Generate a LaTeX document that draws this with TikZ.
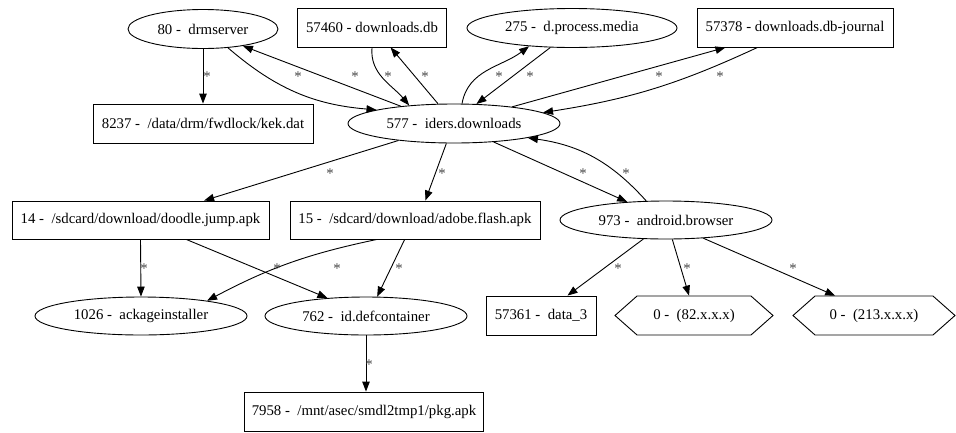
\documentclass[tikz,border=0pt]{standalone}
\usepackage{fontspec}
\setmainfont{Liberation Serif}
\usetikzlibrary{arrows.meta,shapes.geometric,shapes.symbols}

\tikzset{
  proc/.style={ellipse,draw,inner sep=0pt,minimum height=39pt},
  filebox/.style={rectangle,draw,inner sep=0pt,minimum height=39pt},
  sock/.style={signal,signal to=east and west,signal pointer angle=83,draw,inner sep=0pt,minimum height=39pt},
  link/.style={-{Triangle[length=10pt,width=7.5pt]}},
  lbl/.style={inner sep=0pt,text=black!72}
}

\begin{document}
\begin{tikzpicture}[x=1pt,y=-1pt,line width=0.9pt,font=\fontsize{14.8}{17}\selectfont]
  \useasboundingbox (0,0) rectangle (956,432);
  % top row
  \node[proc,minimum width=150pt] (drm) at (203,29) {80 - \ drmserver};
  \node[filebox,minimum width=149pt] (db) at (372,27.5) {57460 - downloads.db};
  \node[proc,minimum width=210pt] (media) at (572,28) {275 - \ d.process.media};
  \node[filebox,minimum width=196pt] (journal) at (795,27.5) {57378 - downloads.db-journal};
  \node[filebox,minimum width=220pt] (kek) at (203,123.5) {8237 - \ /data/drm/fwdlock/kek.dat};
  \node[proc,minimum width=212pt] (iders) at (454,123.5) {577 - \ iders.downloads};
  % middle row
  \node[filebox,minimum width=257pt,minimum height=38pt] (doodle) at (140.5,220) {14 - \ /sdcard/download/doodle.jump.apk};
  \node[filebox,minimum width=250pt,minimum height=38pt] (adobe) at (415,220) {15 - \ /sdcard/download/adobe.flash.apk};
  \node[proc,minimum width=212pt,minimum height=38pt] (browser) at (666,220) {973 - \ android.browser};
  % bottom rows
  \node[proc,minimum width=212pt,minimum height=38pt] (ackage) at (141,316) {1026 - \ ackageinstaller};
  \node[proc,minimum width=202pt,minimum height=38pt] (defc) at (366,316) {762 - \ id.defcontainer};
  \node[filebox,minimum width=110pt] (data) at (541,315.5) {57361 - \ data\_3};
  \node[sock,minimum width=158pt] (ipa) at (694,315.5) {0 - \ (82.x.x.x)};
  \node[sock,minimum width=162pt] (ipb) at (874,315.5) {0 - \ (213.x.x.x)};
  \node[filebox,minimum width=239pt] (pkg) at (364,411.5) {7958 - \ /mnt/asec/smdl2tmp1/pkg.apk};

  \draw[link] (drm.south) -- (kek.north);
  \draw[link] (drm.-37) to[bend right=18] (iders.170);
  \draw[link] (iders.162) -- (drm.-23);
  \draw[link] (db.south) to[out=-95,in=130] (iders.158);
  \draw[link] (iders.129) -- (db.-47);
  \draw[link] (iders.68) to[out=80,in=-143] (media.203);
  \draw[link] (media.-138) -- (iders.41);
  \draw[link] (iders.16) -- (journal.196);
  \draw[link] (journal.208) to[bend left=8] (iders.7);
  \draw[link] (iders.197) -- (doodle.17);
  \draw[link] (iders.-111) -- (adobe.62);
  \draw[link] (iders.-25) -- (browser.155);
  \draw[link] (browser.136) to[bend right=20] (iders.-11);
  \draw[link] (doodle.south) -- (ackage.north);
  \draw[link] (doodle.-23) -- (defc.155);
  \draw[link] (adobe.207) to[bend right=8] (ackage.13);
  \draw[link] (adobe.-118) -- (defc.60);
  \draw[link] (defc.south) -- (pkg.north -| defc.south);
  \draw[link] (browser.220) -- (data.37);
  \draw[link] (browser.-72) -- (ipa.104);
  \draw[link] (browser.-26) -- (ipb.153);

  % edge labels
  \node[lbl] (s1) at (207,77) {*};
  \node[lbl] (s2) at (298,77) {*};
  \node[lbl] (s3) at (355,77) {*};
  \node[lbl] (s4) at (388,77) {*};
  \node[lbl] (s5) at (425,77) {*};
  \node[lbl] (s6) at (499,77) {*};
  \node[lbl] (s7) at (530,77) {*};
  \node[lbl] (s8) at (659,77) {*};
  \node[lbl] (s9) at (720,77) {*};
  \node[lbl] (s10) at (330,174) {*};
  \node[lbl] (s11) at (442,174) {*};
  \node[lbl] (s12) at (583,174) {*};
  \node[lbl] (s13) at (626,174) {*};
  \node[lbl] (s14) at (144,269) {*};
  \node[lbl] (s15) at (277,269) {*};
  \node[lbl] (s16) at (337,269) {*};
  \node[lbl] (s17) at (399,269) {*};
  \node[lbl] (s18) at (369,365) {*};
  \node[lbl] (s19) at (618,269) {*};
  \node[lbl] (s20) at (687,269) {*};
  \node[lbl] (s21) at (793,269) {*};
\end{tikzpicture}
\end{document}
